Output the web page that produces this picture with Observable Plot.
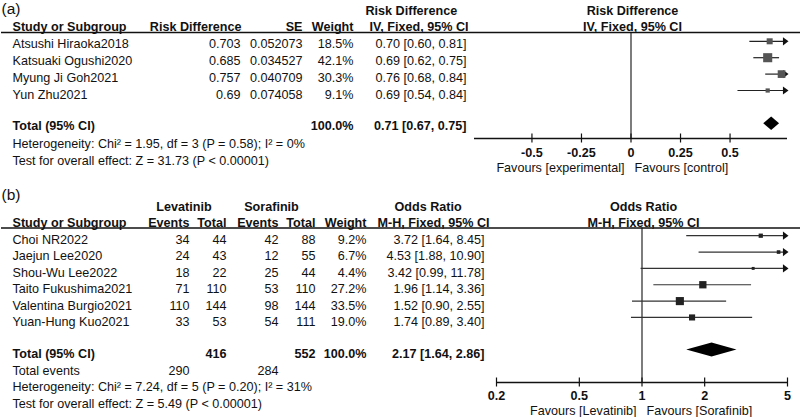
<!DOCTYPE html>
<html>
<head>
<meta charset="utf-8">
<script src="https://cdn.jsdelivr.net/npm/d3@7"></script>
<script src="https://cdn.jsdelivr.net/npm/@observablehq/plot@0.6"></script>
<style>
  html, body { margin: 0; padding: 0; background: white; }
</style>
</head>
<body>
<script>
// ---------- Panel (a) data ----------
const studiesA = ["Atsushi Hiraoka2018", "Katsuaki Ogushi2020", "Myung Ji Goh2021", "Yun Zhu2021"];
const rdA = [0.703, 0.685, 0.757, 0.69];
const seA = [0.052073, 0.034527, 0.040709, 0.074058];
const weightA = [18.5, 42.1, 30.3, 9.1];
const estA = [0.70, 0.69, 0.76, 0.69];
const lowA = [0.60, 0.62, 0.68, 0.54];
const highA = [0.81, 0.75, 0.84, 0.84];
const totalA = [0.71, 0.67, 0.75]; // est, low, high
const ticksA = [-0.5, -0.25, 0, 0.25, 0.5];
const domainA = [-0.79, 0.79];
const hetA = "Heterogeneity: Chi² = 1.95, df = 3 (P = 0.58); I² = 0%";
const testA = "Test for overall effect: Z = 31.73 (P < 0.00001)";

// ---------- Panel (b) data ----------
const studiesB = ["Choi NR2022", "Jaejun Lee2020", "Shou-Wu Lee2022", "Taito Fukushima2021", "Valentina Burgio2021", "Yuan-Hung Kuo2021"];
const levEventsB = [34, 24, 18, 71, 110, 33];
const levTotalB = [44, 43, 22, 110, 144, 53];
const sorEventsB = [42, 12, 25, 53, 98, 54];
const sorTotalB = [88, 55, 44, 110, 144, 111];
const weightB = [9.2, 6.7, 4.4, 27.2, 33.5, 19.0];
const orB = [3.72, 4.53, 3.42, 1.96, 1.52, 1.74];
const lowB = [1.64, 1.88, 0.99, 1.14, 0.90, 0.89];
const highB = [8.45, 10.90, 11.78, 3.36, 2.55, 3.40];
const totalB = [2.17, 1.64, 2.86];
const totalsB = [416, 552];       // Levatinib total, Sorafinib total
const totalEventsB = [290, 284];
const ticksB = [0.2, 0.5, 1, 2, 5];
const domainB = [0.2, 5];
const hetB = "Heterogeneity: Chi² = 7.24, df = 5 (P = 0.20); I² = 31%";
const testB = "Test for overall effect: Z = 5.49 (P < 0.00001)";

// ---------- helpers ----------
const FONT = "'Liberation Sans', Arial, Helvetica, sans-serif";
const FS = 12.6;
const INK = "#111";
const fmtCI = (e, l, h) => `${e.toFixed(2)} [${l.toFixed(2)}, ${h.toFixed(2)}]`;
const pct = v => v.toFixed(1) + "%";

const xA = Plot.scale({x: {type: "linear", domain: domainA, range: [474, 787]}});
const xB = Plot.scale({x: {type: "log", domain: domainB, range: [496, 787]}});

function T(data, x, y, text, opts = {}) {
  return Plot.text(data, {
    x: typeof x === "function" ? x : () => x,
    y: typeof y === "function" ? y : () => y,
    text: typeof text === "function" ? text : () => text,
    textAnchor: opts.anchor || "start",
    fontWeight: opts.bold ? "bold" : "normal",
    fontSize: opts.size || FS,
    fill: INK
  });
}
const one = [0];
const lbl = (x, y, s, o) => T(one, x, y, s, o);

// right-pointing arrowhead with tip at the origin
const arrowHead = {
  draw(ctx, size) {
    const h = Math.sqrt(size);
    ctx.moveTo(0, 0);
    ctx.lineTo(-h * 0.68, -h / 2);
    ctx.lineTo(-h * 0.68, h / 2);
    ctx.closePath();
  }
};

// ---------- rows ----------
const rowsA = studiesA.map((name, i) => ({
  name, rd: rdA[i], se: seA[i], w: weightA[i], est: estA[i], low: lowA[i], high: highA[i],
  ty: 43.5 + 17 * i, fy: 40.8 + 16.4 * i
}));
const rowsB = studiesB.map((name, i) => ({
  name, le: levEventsB[i], lt: levTotalB[i], se: sorEventsB[i], st: sorTotalB[i], w: weightB[i],
  est: orB[i], low: lowB[i], high: highB[i],
  ty: 239.4 + 16.5 * i, fy: 235.2 + 16.35 * i
}));

function forest(rows, xs, dom, r0, r1, squareFill, lineStroke) {
  const clamp = v => Math.max(r0, Math.min(r1, xs.apply(v)));
  return [
    Plot.ruleY(rows, {y: d => d.fy, x1: d => clamp(d.low), x2: d => clamp(d.high), stroke: lineStroke, strokeWidth: 1.2}),
    Plot.dot(rows.filter(d => d.high > dom[1]), {x: () => r1 + 1, y: d => d.fy, symbol: arrowHead, r: 4.6, fill: INK, stroke: "none"}),
    Plot.dot(rows, {x: d => xs.apply(d.est), y: d => d.fy, symbol: "square", r: d => d.w, fill: squareFill, stroke: "none"})
  ];
}
function diamond(tot, xs, cy, half) {
  const pts = [
    {y: cy - half, a: tot[0], b: tot[0]},
    {y: cy, a: tot[1], b: tot[2]},
    {y: cy + half, a: tot[0], b: tot[0]}
  ];
  return Plot.areaX(pts, {y: d => d.y, x1: d => xs.apply(d.a), x2: d => xs.apply(d.b), fill: "#000", curve: "linear"});
}
function axis(ticks, xs, r0, r1, ay, labY, fmt) {
  return [
    Plot.ruleY([ay], {y: d => d, x1: () => r0, x2: () => r1, stroke: INK, strokeWidth: 1.3}),
    Plot.ruleX(ticks, {x: d => xs.apply(d), y1: () => ay - 4.5, y2: () => ay + 4.5, stroke: INK, strokeWidth: 1.2}),
    Plot.text(ticks, {x: d => xs.apply(d), y: () => labY, text: fmt, fontWeight: "bold", fontSize: FS, fill: INK})
  ];
}

const marks = [
  // ======== Panel (a) ========
  lbl(1, 9, "(a)", {size: 15.5}),
  lbl(365, 10, "Risk Difference", {bold: true}),
  lbl(632, 10, "Risk Difference", {bold: true, anchor: "middle"}),
  lbl(12, 26.7, "Study or Subgroup", {bold: true}),
  lbl(241, 26.7, "Risk Difference", {bold: true, anchor: "end"}),
  lbl(302, 26.7, "SE", {bold: true, anchor: "end"}),
  lbl(353, 26.7, "Weight", {bold: true, anchor: "end"}),
  lbl(468, 26.7, "IV, Fixed, 95% CI", {bold: true, anchor: "end"}),
  lbl(632, 26.7, "IV, Fixed, 95% CI", {bold: true, anchor: "middle"}),
  Plot.ruleY([32], {y: d => d, x1: () => 1, x2: () => 800, stroke: INK, strokeWidth: 1.3}),
  T(rowsA, 12, d => d.ty, d => d.name),
  T(rowsA, 240, d => d.ty, d => String(d.rd), {anchor: "end"}),
  T(rowsA, 302, d => d.ty, d => String(d.se), {anchor: "end"}),
  T(rowsA, 353, d => d.ty, d => pct(d.w), {anchor: "end"}),
  T(rowsA, 466, d => d.ty, d => fmtCI(d.est, d.low, d.high), {anchor: "end"}),
  lbl(12, 125, "Total (95% CI)", {bold: true}),
  lbl(353, 125, "100.0%", {bold: true, anchor: "end"}),
  lbl(466, 125, fmtCI(totalA[0], totalA[1], totalA[2]), {bold: true, anchor: "end"}),
  lbl(12, 143.3, hetA),
  lbl(12, 160, testA),
  Plot.ruleX([0], {x: d => xA.apply(d), y1: () => 32, y2: () => 138, stroke: INK, strokeWidth: 1.1}),
  ...axis(ticksA, xA, 474, 787, 138, 152.5, d => String(d)),
  lbl(624, 167, "Favours [experimental]", {anchor: "end"}),
  lbl(634, 167, "Favours [control]"),
  ...forest(rowsA, xA, domainA, 474, 787, "#555", "#222"),
  diamond(totalA, xA, 123.3, 6.7),

  // ======== Panel (b) ========
  lbl(1, 195, "(b)", {size: 15.5}),
  lbl(183.5, 206, "Levatinib", {bold: true, anchor: "middle"}),
  lbl(271, 206, "Sorafinib", {bold: true, anchor: "middle"}),
  lbl(394, 206, "Odds Ratio", {bold: true}),
  lbl(643, 206, "Odds Ratio", {bold: true, anchor: "middle"}),
  lbl(12, 222.3, "Study or Subgroup", {bold: true}),
  lbl(189, 222.3, "Events", {bold: true, anchor: "end"}),
  lbl(226, 222.3, "Total", {bold: true, anchor: "end"}),
  lbl(278, 222.3, "Events", {bold: true, anchor: "end"}),
  lbl(315, 222.3, "Total", {bold: true, anchor: "end"}),
  lbl(366, 222.3, "Weight", {bold: true, anchor: "end"}),
  lbl(489, 222.3, "M-H, Fixed, 95% CI", {bold: true, anchor: "end"}),
  lbl(643, 222.3, "M-H, Fixed, 95% CI", {bold: true, anchor: "middle"}),
  Plot.ruleY([227.5], {y: d => d, x1: () => 1, x2: () => 800, stroke: INK, strokeWidth: 1.3}),
  T(rowsB, 12, d => d.ty, d => d.name),
  T(rowsB, 189, d => d.ty, d => String(d.le), {anchor: "end"}),
  T(rowsB, 226, d => d.ty, d => String(d.lt), {anchor: "end"}),
  T(rowsB, 278, d => d.ty, d => String(d.se), {anchor: "end"}),
  T(rowsB, 315, d => d.ty, d => String(d.st), {anchor: "end"}),
  T(rowsB, 366, d => d.ty, d => pct(d.w), {anchor: "end"}),
  T(rowsB, 484, d => d.ty, d => fmtCI(d.est, d.low, d.high), {anchor: "end"}),
  lbl(12, 353, "Total (95% CI)", {bold: true}),
  lbl(226, 353, String(totalsB[0]), {bold: true, anchor: "end"}),
  lbl(315, 353, String(totalsB[1]), {bold: true, anchor: "end"}),
  lbl(366, 353, "100.0%", {bold: true, anchor: "end"}),
  lbl(484, 353, fmtCI(totalB[0], totalB[1], totalB[2]), {bold: true, anchor: "end"}),
  lbl(12, 370, "Total events"),
  lbl(189, 370, String(totalEventsB[0]), {anchor: "end"}),
  lbl(278, 370, String(totalEventsB[1]), {anchor: "end"}),
  lbl(12, 386.7, hetB),
  lbl(12, 403, testB),
  Plot.ruleX([1], {x: d => xB.apply(d), y1: () => 227.5, y2: () => 382, stroke: INK, strokeWidth: 1.1}),
  ...axis(ticksB, xB, 496, 787, 382, 395.5, d => String(d)),
  lbl(636, 410, "Favours [Levatinib]", {anchor: "end"}),
  lbl(646, 410, "Favours [Sorafinib]"),
  ...forest(rowsB, xB, domainB, 496, 787, "#222", "#333"),
  diamond(totalB, xB, 349.5, 7)
];

const chart = Plot.plot({
  width: 800,
  height: 417,
  margin: 0,
  x: {type: "identity", axis: null},
  y: {type: "identity", axis: null},
  r: {type: "sqrt", domain: [0, 100], range: [0, 7.9]},
  style: {fontFamily: FONT, fontSize: FS + "px", background: "white", color: INK},
  marks
});
document.body.appendChild(chart);
</script>
</body>
</html>
